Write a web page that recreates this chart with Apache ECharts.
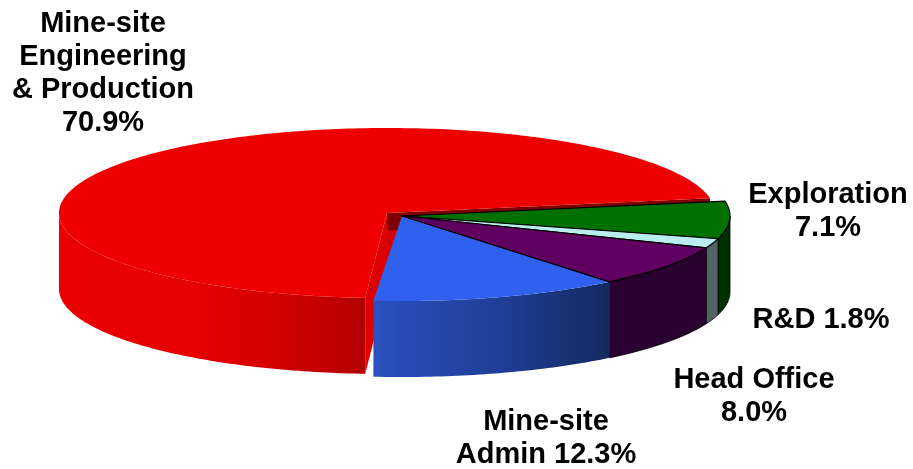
<!DOCTYPE html>
<html>
<head>
<meta charset="utf-8">
<style>html,body{margin:0;padding:0;background:#fff}#c{width:913px;height:469px}</style>
<script src="https://cdn.jsdelivr.net/npm/echarts@6/dist/echarts.min.js"></script>
</head>
<body>
<div id="c"></div>
<script>
// Data (painting order runs clockwise from the front of the pie)
var categories = ['Mine-site Engineering & Production', 'Exploration', 'R&D', 'Head Office', 'Mine-site Admin'];
var shares = [70.9, 7.1, 1.8, 8.0, 12.3];

// Styling
var labelLines = [
  ['Mine-site', 'Engineering', '& Production', '{v}'],
  ['Exploration', '{v}'],
  ['R&D {v}'],
  ['Head Office', '{v}'],
  ['Mine-site', 'Admin {v}']
];
var labelAnchors = [[103, 7], [828, 178], [821, 303], [754, 363], [546, 405]];
var topColors = ['#ee0000', '#007000', '#b8eeee', '#600060', '#2f60ee'];
var strokes = [null, '#000', '#000', '#000', null];
var topZ = [1, 4, 5, 6, 3];
var explode = [[-15, -3], [0, 0], [0, 0], [0, 0], [0, 0]];
var cutLean = [-1.2, 0, 0, 0, 0];   // perspective lean of the slice's front cut, in degrees
var START = 95, RX = 328, RY = 85, DEPTH = 76, CX = 402, CY = 216;

var G = echarts.graphic.LinearGradient;
function h(x0, x1, stops) {
  return new G(x0, 0, x1, 0, stops.map(function (s) { return { offset: s[0], color: s[1] }; }), true);
}
var wallFills = [
  h(59, 363, [[0, '#ea0000'], [0.45, '#e60000'], [0.7, '#d40000'], [1, '#b40000']]),
  '#003000', '#4f6464', '#2a0030',
  h(373, 609, [[0, '#2b50c0'], [0.5, '#20409a'], [1, '#132a60']])
];

var total = shares.reduce(function (a, b) { return a + b; }, 0);
var bounds = [], acc = START;
shares.forEach(function (s, i) { var a = acc; acc += s / total * 360; bounds.push([a + cutLean[i], acc]); });

function pt(i, deg, dy) {
  var t = deg * Math.PI / 180, e = explode[i];
  return [CX + e[0] + RX * Math.cos(t), CY + e[1] + RY * Math.sin(t) + (dy || 0)];
}
function arc(i, a, b, dy) {
  var out = [], n = Math.max(2, Math.ceil(Math.abs(b - a)));
  for (var k = 0; k <= n; k++) out.push(pt(i, a + (b - a) * k / n, dy));
  return out;
}
function renderWalls(params, api) {
  var i = params.dataIndex, a = bounds[i][0], b = bounds[i][1], kids = [];
  var apex = [CX + explode[i][0], CY + explode[i][1]];
  if (i === 0) {
    // inner cut faces of the pulled-out slice
    var p = pt(i, b), q = pt(i, a);
    kids.push({ type: 'polygon', z2: 1, shape: { points: [apex, p, [p[0], p[1] + DEPTH], [apex[0], apex[1] + DEPTH]] },
      style: { fill: new G(0, CY - 18, 0, CY + 73, [{ offset: 0, color: '#800000' }, { offset: 0.35, color: '#800000' }, { offset: 0.36, color: '#d40000' }, { offset: 1, color: '#d40000' }], true) } });
    kids.push({ type: 'polygon', z2: 1, shape: { points: [apex, q, [q[0], q[1] + DEPTH], [apex[0], apex[1] + DEPTH]] },
      style: { fill: new G(0, q[1], 0, q[1] + DEPTH, [{ offset: 0, color: '#dc0000' }, { offset: 1, color: '#e40000' }], true) } });
  }
  // the outer rim is only visible on the near half of the ellipse (angles 360..540)
  var lo = Math.max(a, a >= 180 && b > 360 ? 360 : a), hi = i === 0 ? 180 : b;
  var top = arc(i, lo, hi), bot = arc(i, hi, lo, DEPTH);
  kids.push({ type: 'polygon', z2: 2, shape: { points: top.concat(bot) },
    style: { fill: wallFills[i], stroke: strokes[i], lineWidth: strokes[i] ? 0.8 : 0 } });
  return { type: 'group', children: kids };
}
function renderTops(params, api) {
  var i = params.dataIndex, a = bounds[i][0], b = bounds[i][1];
  var apex = [CX + explode[i][0], CY + explode[i][1]];
  return { type: 'polygon', z2: topZ[i], shape: { points: [apex].concat(arc(i, a, b)) },
    style: { fill: topColors[i], stroke: strokes[i], lineWidth: strokes[i] ? 1.2 : 0, lineJoin: 'round' } };
}
function renderLabels(params, api) {
  var i = params.dataIndex, v = api.value(0).toFixed(1) + '%';
  return { type: 'text', x: labelAnchors[i][0], y: labelAnchors[i][1],
    style: { text: labelLines[i].join('\n').replace('{v}', v), fill: '#000', align: 'center', verticalAlign: 'top',
      font: 'bold 29px "Liberation Sans", Arial, sans-serif', lineHeight: 33 } };
}
var seriesData = shares.map(function (s, i) { return { name: categories[i], value: [s] }; });
var chart = echarts.init(document.getElementById('c'), null, { renderer: 'canvas' });
chart.setOption({
  animation: false,
  backgroundColor: '#ffffff',
  series: [
    { type: 'custom', coordinateSystem: 'none', z: 1, silent: true, renderItem: renderWalls, data: seriesData },
    { type: 'custom', coordinateSystem: 'none', z: 2, silent: true, renderItem: renderTops, data: seriesData },
    { type: 'custom', coordinateSystem: 'none', z: 3, silent: true, renderItem: renderLabels, data: seriesData }
  ]
});
</script>
</body>
</html>
